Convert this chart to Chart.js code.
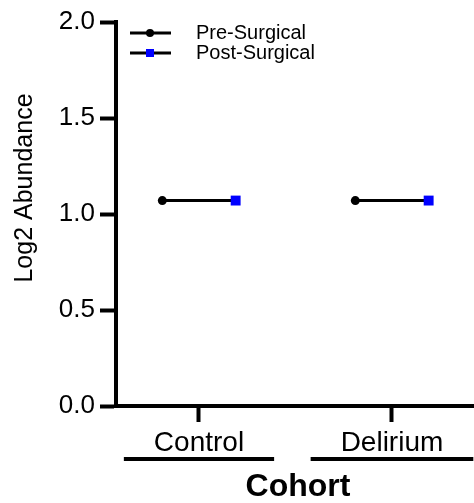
<!DOCTYPE html>
<html lang="en">
<head>
    <meta charset="UTF-8">
    <title>Log2 Abundance by Cohort</title>
    <style>
        body {
            margin: 0;
            padding: 0;
            background: white;
        }
        .chart-box {
            width: 474px;
            height: 503px;
        }
    </style>
</head>
<body>
    <div class="chart-box">
        <canvas id="chart" width="474" height="503"></canvas>
    </div>

    <script src="https://cdn.jsdelivr.net/npm/chart.js"></script>
    <script>
        // data
        const cohorts = ['Control', 'Delirium'];
        const seriesNames = ['Pre-Surgical', 'Post-Surgical'];
        const preValues = [1.07, 1.07];
        const postValues = [1.07, 1.07];
        const yTicks = [0, 0.5, 1.0, 1.5, 2.0];

        const FONT = "'Liberation Sans', Arial, sans-serif";
        const BLUE = '#0000ff';
        const SHIFT = 0.19; // pre/post offset within a cohort

        // one short line per cohort, pre -> post
        const datasets = cohorts.map((name, i) => ({
            label: name,
            data: [
                { x: i + 1 - SHIFT, y: preValues[i] },
                { x: i + 1 + SHIFT, y: postValues[i] }
            ],
            borderColor: '#000',
            borderWidth: 3,
            pointStyle: ['circle', 'rect'],
            pointRadius: [4.5, 7],
            pointBackgroundColor: ['#000', BLUE],
            pointBorderWidth: 0,
            tension: 0
        }));

        // legend, group underlines, axis titles
        const extras = {
            id: 'extras',
            afterDraw(chart) {
                const ctx = chart.ctx;
                const xs = chart.scales.x;
                ctx.save();

                // legend
                const markers = [
                    { style: 'circle', color: '#000' },
                    { style: 'rect', color: BLUE }
                ];
                seriesNames.forEach((name, i) => {
                    const y = 33 + i * 20;
                    ctx.strokeStyle = '#000';
                    ctx.lineWidth = 3;
                    ctx.beginPath();
                    ctx.moveTo(130, y);
                    ctx.lineTo(171, y);
                    ctx.stroke();
                    ctx.fillStyle = markers[i].color;
                    if (markers[i].style === 'circle') {
                        ctx.beginPath();
                        ctx.arc(150, y, 4, 0, Math.PI * 2);
                        ctx.fill();
                    } else {
                        ctx.fillRect(146, y - 4, 8, 8);
                    }
                    ctx.fillStyle = '#000';
                    ctx.font = '20px ' + FONT;
                    ctx.textAlign = 'left';
                    ctx.textBaseline = 'middle';
                    ctx.fillText(name, 196, y);
                });

                // group underlines, a bit wider than each label
                ctx.strokeStyle = '#000';
                ctx.lineWidth = 4;
                ctx.font = '28px ' + FONT;
                cohorts.forEach((c, i) => {
                    const mid = xs.getPixelForValue(i + 1);
                    const half = ctx.measureText(c).width / 2 + 30;
                    ctx.beginPath();
                    ctx.moveTo(mid - half, 459);
                    ctx.lineTo(mid + half, 459);
                    ctx.stroke();
                });

                // x title
                ctx.fillStyle = '#000';
                ctx.font = 'bold 32px ' + FONT;
                ctx.textAlign = 'center';
                ctx.textBaseline = 'middle';
                ctx.fillText('Cohort', (chart.chartArea.left + chart.chartArea.right) / 2 + 3, 487);

                // y title
                ctx.translate(25, 188);
                ctx.rotate(-Math.PI / 2);
                ctx.font = '25px ' + FONT;
                ctx.fillText('Log2 Abundance', 0, 0);
                ctx.restore();
            }
        };

        new Chart(document.getElementById('chart'), {
            type: 'line',
            data: { datasets: datasets },
            options: {
                responsive: false,
                animation: false,
                layout: {
                    autoPadding: false,
                    padding: { top: 22, right: 0, left: 0, bottom: 0 }
                },
                plugins: {
                    legend: { display: false },
                    tooltip: { enabled: false }
                },
                scales: {
                    x: {
                        type: 'linear',
                        min: 0.57,
                        max: 2.425,
                        afterFit: scale => {
                            scale.height = 97;
                            scale.paddingLeft = 0;
                            scale.paddingRight = 0;
                        },
                        afterBuildTicks: scale => {
                            scale.ticks = cohorts.map((c, i) => ({ value: i + 1 }));
                        },
                        ticks: {
                            callback: value => cohorts[value - 1],
                            color: '#000',
                            font: { family: FONT, size: 28 },
                            padding: 4,
                            maxRotation: 0
                        },
                        grid: {
                            drawOnChartArea: false,
                            tickLength: 16,
                            tickWidth: 4,
                            tickColor: '#000'
                        },
                        border: { display: true, color: '#000', width: 4 }
                    },
                    y: {
                        min: 0,
                        max: 2,
                        afterFit: scale => { scale.width = 116; },
                        afterBuildTicks: scale => {
                            scale.ticks = yTicks.map(v => ({ value: v }));
                        },
                        ticks: {
                            callback: value => value.toFixed(1),
                            color: '#000',
                            font: { family: FONT, size: 26 },
                            padding: 5
                        },
                        grid: {
                            drawOnChartArea: false,
                            tickLength: 16,
                            tickWidth: 4,
                            tickColor: '#000'
                        },
                        border: { display: true, color: '#000', width: 4 }
                    }
                }
            },
            plugins: [extras]
        });
    </script>
</body>
</html>
